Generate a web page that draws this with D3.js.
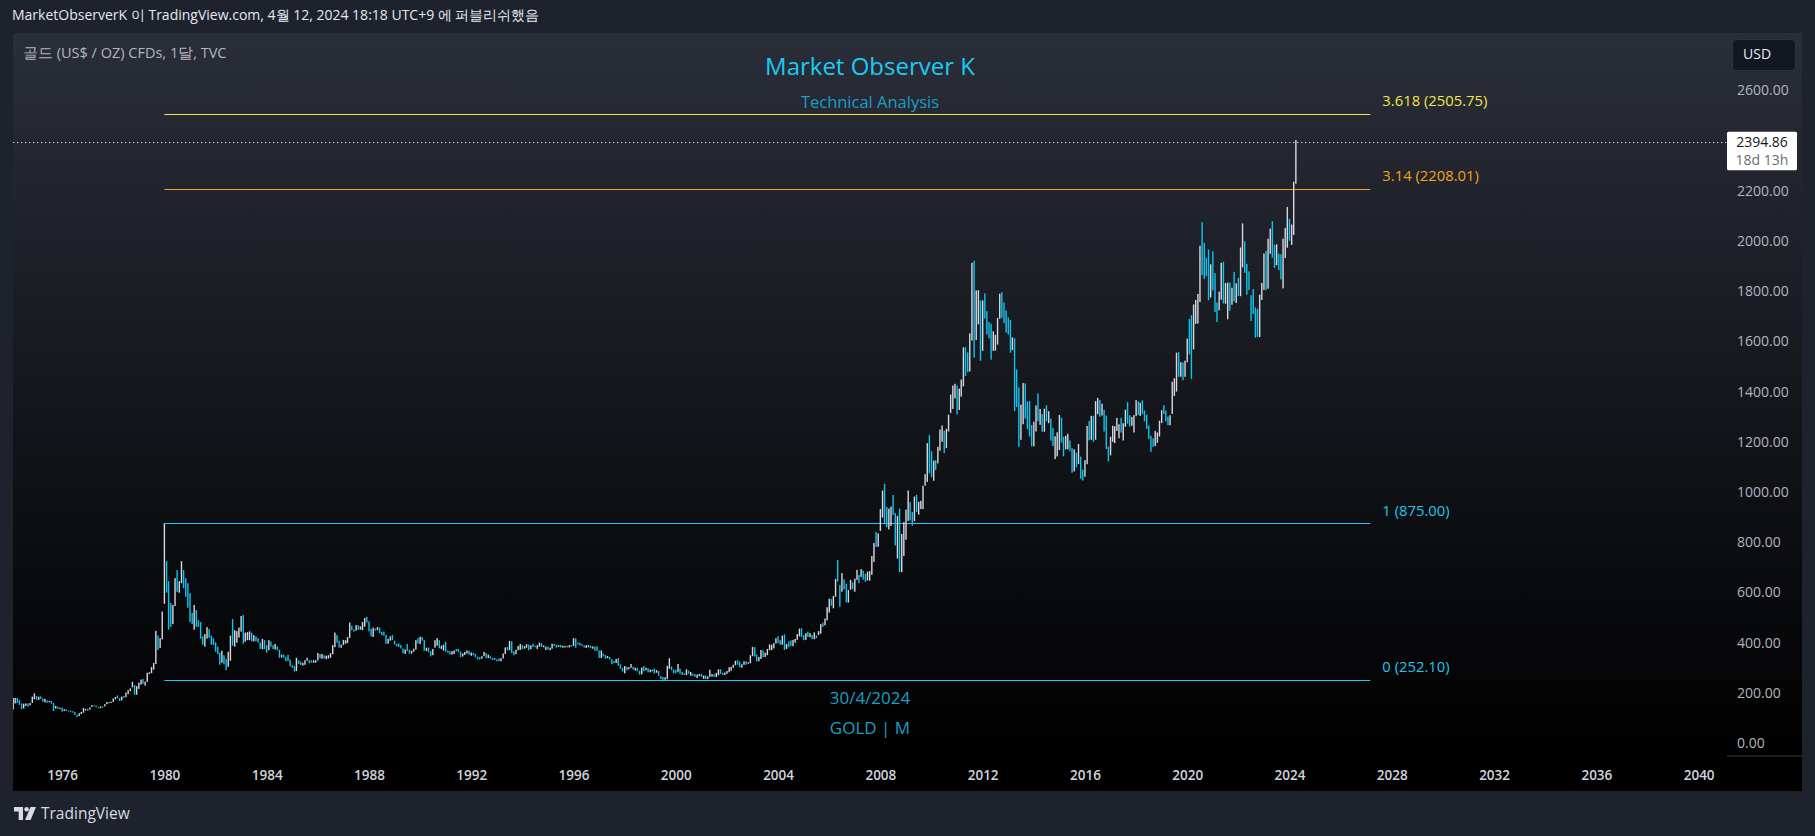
<!DOCTYPE html>
<html>
<head>
<meta charset="utf-8">
<script src="https://cdn.jsdelivr.net/npm/d3@7"></script>
<style>
  html, body { margin: 0; padding: 0; background: #1e222d; overflow: hidden; }
  text { font-family: "Open Sans", Roboto, sans-serif; }
</style>
</head>
<body>
<div id="chart"></div>
<script>
// monthly gold bars (TVC:GOLD), Jan 1974 .. Apr 2024
var startYear = 1974;
var openBefore = 112;

var closes = [
  139,169,178,172,154,143,155,155,152,158,182,187, // 1974
  176,182,178,167,167,166,167,159,142,142,139,140,
  129,132,129,128,126,123,112,104,116,123,130,134,
  132,142,149,148,143,141,145,145,154,162,161,165,
  175,182,181,170,184,183,200,208,217,242,198,226,
  233,251,240,245,275,277,296,315,397,383,414,512,
  653,637,494,488,535,653,615,632,666,629,619,590, // 1980
  500,487,514,482,479,424,409,426,437,428,414,398,
  387,363,320,349,318,315,345,411,397,422,437,448,
  481,408,414,429,437,416,422,414,403,382,405,382,
  371,395,389,375,385,373,344,347,342,333,331,309,
  305,298,330,321,316,317,329,333,326,325,326,327,
  353,339,348,343,344,346,357,383,421,403,385,391,
  405,406,419,452,451,448,462,453,460,465,491,486,
  455,427,457,451,460,438,437,430,398,412,422,410,
  395,388,386,377,362,373,367,359,367,375,408,401,
  415,407,368,368,363,352,372,387,408,380,385,386, // 1990
  367,363,356,356,367,366,363,347,355,357,366,353,
  354,353,341,338,337,343,357,341,349,338,334,333,
  330,327,338,355,378,376,402,371,355,370,371,391,
  378,380,390,377,387,386,383,386,395,383,383,383,
  375,376,392,390,385,387,383,384,384,383,387,387,
  405,400,396,392,390,382,385,387,379,379,372,369,
  345,362,348,340,345,334,326,325,332,311,296,290,
  304,297,301,310,293,297,287,273,294,292,294,288,
  288,288,280,286,268,262,255,255,299,299,293,290,
  284,293,278,276,273,288,277,277,274,265,273,273, // 2000
  265,267,258,264,266,271,265,273,291,279,275,277,
  283,297,303,308,326,318,304,312,323,316,318,348,
  368,348,334,336,364,346,355,373,384,385,397,417,
  402,397,426,388,395,393,391,408,416,426,453,438,
  422,434,428,435,417,435,429,437,473,470,496,517,
  568,556,582,654,643,613,632,624,598,604,647,632,
  650,665,662,680,659,651,666,673,744,788,783,834,
  924,972,916,864,886,927,913,834,872,723,814,869,
  919,942,917,891,980,927,954,955,1008,1040,1182,1096,
  1084,1118,1113,1180,1213,1244,1181,1248,1307,1357,1386,1421, // 2010
  1333,1410,1439,1556,1536,1500,1628,1826,1624,1722,1746,1565,
  1737,1711,1669,1664,1562,1604,1615,1687,1772,1720,1711,1675,
  1663,1578,1596,1472,1393,1234,1312,1395,1327,1323,1253,1202,
  1244,1326,1284,1296,1250,1327,1282,1287,1210,1171,1182,1184,
  1283,1212,1183,1183,1190,1172,1095,1133,1115,1142,1065,1061,
  1118,1238,1233,1293,1214,1322,1351,1309,1316,1277,1173,1146,
  1211,1249,1249,1268,1268,1242,1269,1322,1280,1271,1275,1303,
  1345,1318,1325,1315,1299,1253,1224,1201,1192,1215,1222,1282,
  1321,1313,1292,1284,1305,1409,1413,1520,1472,1513,1464,1517,
  1589,1585,1577,1694,1730,1781,1975,1967,1886,1879,1776,1898, // 2020
  1848,1734,1708,1769,1906,1770,1814,1814,1743,1783,1775,1829,
  1797,1909,1937,1897,1837,1807,1766,1711,1661,1633,1768,1824,
  1928,1827,1969,1990,1963,1919,1965,1940,1849,1984,2036,2063,
  2039,2044,2229,2395
];

var highs = [
  140,180,180,180,172,158,157,158,158,160,185,198, // 1974
  187,185,186,178,176,170,168,168,160,148,145,141,
  141,135,134,130,129,127,124,113,119,124,140,136,
  137,142,151,150,149,143,146,146,155,164,164,165,
  178,184,190,180,185,187,201,211,218,244,231,227,
  241,253,255,245,280,282,303,319,447,428,418,524,
  875,725,645,558,550,657,689,645,725,689,657,637, // 1980
  597,518,550,530,490,482,425,434,462,454,428,418,
  402,384,360,368,350,336,364,428,494,450,446,460,
  506,510,440,442,445,440,430,425,418,400,415,410,
  390,410,405,390,395,385,372,352,352,344,352,333,
  310,307,340,330,325,320,330,340,330,330,330,330,
  359,355,355,350,348,350,358,390,440,430,408,392,
  411,410,422,480,468,452,470,469,465,482,498,503,
  485,455,460,456,462,460,443,444,431,415,425,430,
  408,395,397,391,377,373,395,372,368,376,410,418,
  424,422,410,380,380,366,375,410,418,410,388,392, // 1990
  403,368,366,366,369,375,375,365,357,363,369,368,
  361,359,355,344,342,346,363,359,352,346,339,339,
  334,337,338,357,381,383,407,405,366,372,387,395,
  391,386,394,392,389,396,388,390,400,398,389,384,
  384,380,396,395,392,390,391,388,387,388,390,389,
  418,417,400,400,394,389,390,390,388,385,385,385,
  369,369,356,351,347,343,335,327,335,339,314,300,
  307,304,302,315,304,300,300,288,301,307,300,298,
  293,292,297,291,287,267,264,262,308,338,305,293,
  292,315,297,284,278,294,289,283,277,275,273,275, // 2000
  276,269,270,266,292,275,274,280,294,294,280,281,
  287,302,304,312,328,330,325,314,326,326,322,350,
  383,382,352,343,371,369,360,375,393,392,398,418,
  426,410,428,433,395,405,409,411,415,434,456,457,
  430,438,444,438,430,441,429,446,474,480,496,541,
  575,574,586,654,730,630,677,652,635,610,650,640,
  655,690,670,693,687,674,683,685,745,797,841,835,
  932,1006,1033,941,934,942,988,916,905,934,833,880,
  930,1006,960,920,982,989,961,965,1025,1071,1195,1227,
  1162,1125,1127,1180,1249,1265,1244,1252,1308,1388,1424,1431, // 2010
  1424,1412,1448,1576,1577,1556,1632,1913,1921,1803,1804,1763,
  1763,1791,1720,1677,1670,1640,1626,1693,1790,1796,1755,1723,
  1695,1685,1616,1612,1488,1417,1348,1434,1433,1361,1362,1267,
  1280,1345,1392,1331,1310,1332,1345,1322,1292,1255,1222,1238,
  1307,1296,1220,1224,1232,1205,1175,1170,1157,1191,1141,1089,
  1127,1263,1283,1303,1304,1362,1375,1367,1352,1327,1305,1181,
  1220,1264,1262,1295,1270,1296,1274,1328,1358,1306,1299,1306,
  1366,1361,1356,1365,1325,1308,1265,1224,1214,1243,1237,1284,
  1326,1346,1324,1301,1306,1439,1453,1555,1557,1517,1516,1523,
  1611,1689,1704,1747,1765,1789,1981,2075,1992,1933,1966,1907, // 2020
  1959,1872,1755,1798,1913,1917,1832,1834,1834,1814,1877,1831,
  1853,1974,2070,1998,1909,1879,1784,1808,1735,1730,1786,1833,
  1950,1960,2009,2049,2079,1984,1987,1949,1947,2009,2052,2135,
  2088,2065,2236,2402
];

var lows = [
  117,134,158,160,152,135,138,148,145,150,160,175, // 1974
  172,172,176,165,162,161,163,157,128,138,137,136,
  125,128,128,126,123,122,112,103,108,116,121,130,
  129,133,144,146,143,140,139,144,146,155,158,160,
  164,174,179,168,170,180,183,195,207,222,193,193,
  216,233,236,229,244,275,279,293,315,371,379,413,
  555,599,452,463,474,546,602,599,637,617,583,539, // 1980
  482,474,452,463,463,416,392,384,416,420,392,391,
  364,355,312,320,314,291,304,328,388,384,400,420,
  444,396,404,410,410,405,405,405,400,375,374,375,
  360,370,384,375,373,370,340,341,340,326,327,306,
  300,285,287,315,311,309,312,328,318,320,320,320,
  329,338,336,337,334,337,340,354,382,400,380,380,
  391,396,399,419,449,444,448,451,452,450,464,480,
  445,425,423,448,450,438,430,428,395,396,408,410,
  392,385,383,377,358,355,367,356,356,364,373,397,
  395,408,368,367,362,346,350,380,388,378,375,368, // 1990
  364,360,353,352,355,365,363,342,345,351,357,352,
  348,350,342,333,333,336,346,338,339,336,331,331,
  326,326,326,337,355,370,370,359,350,354,370,371,
  375,376,380,370,374,383,382,375,384,383,382,371,
  372,370,376,387,380,383,381,380,381,381,381,385,
  387,380,393,389,387,381,379,382,378,376,368,367,
  339,339,345,336,338,333,315,318,319,308,296,285,
  278,290,294,300,293,289,286,273,274,286,290,282,
  282,286,277,280,268,255,252,252,255,296,290,278,
  278,284,276,271,271,271,276,268,268,264,259,267, // 2000
  263,256,255,255,264,265,264,263,270,276,272,271,
  276,282,288,300,310,312,302,300,312,312,316,318,
  346,345,325,326,335,342,343,350,370,370,377,397,
  398,392,392,371,375,382,387,386,400,411,425,422,
  410,411,423,422,414,414,418,430,436,463,469,489,
  520,547,537,583,643,543,603,612,560,560,611,613,
  603,650,637,662,651,642,648,647,670,722,781,782,
  845,898,875,860,851,865,909,787,735,681,681,745,
  810,885,887,866,884,920,910,932,932,1025,1040,1075,
  1059,1045,1088,1114,1164,1200,1155,1175,1241,1315,1331,1373, // 2010
  1309,1327,1380,1421,1462,1477,1480,1603,1535,1605,1668,1523,
  1562,1691,1628,1612,1527,1562,1563,1587,1690,1694,1673,1635,
  1627,1555,1565,1322,1338,1180,1208,1270,1292,1251,1221,1182,
  1182,1241,1282,1268,1240,1240,1281,1274,1205,1183,1131,1142,
  1167,1197,1142,1170,1170,1162,1077,1082,1098,1111,1053,1046,
  1061,1111,1206,1208,1200,1208,1310,1300,1305,1241,1171,1122,
  1146,1200,1195,1243,1214,1237,1205,1260,1272,1261,1264,1237,
  1302,1307,1303,1310,1282,1251,1211,1160,1180,1183,1196,1221,
  1275,1311,1281,1266,1266,1311,1382,1400,1459,1459,1445,1459,
  1517,1548,1451,1568,1670,1671,1757,1863,1849,1860,1764,1775, // 2020
  1803,1717,1677,1724,1766,1751,1750,1688,1722,1746,1759,1753,
  1781,1780,1895,1873,1786,1805,1681,1709,1615,1618,1617,1765,
  1805,1804,1810,1949,1933,1893,1903,1884,1847,1811,1932,1973,
  2001,1984,2024,2228
];

var yearTicks = [1976,1980,1984,1988,1992,1996,2000,2004,2008,2012,2016,2020,2024,2028,2032,2036,2040];
var priceTicks = [0,200,400,600,800,1000,1200,1400,1600,1800,2000,2200,2400,2600];

// fibonacci extension
var fibLow = 252.10, fibHigh = 875.00;
var fibLevels = [0, 1, 3.14, 3.618];
var fibStart = new Date(1980, 0, 1), fibEnd = new Date(2027, 2, 1);
var fibColors = ["#1ec8f0", "#1ec8f0", "#f7a21a", "#f5e54b"];

var lastPrice = 2394.86, countdown = "18d 13h";

var W = 1815, H = 836;
var plot = { left: 13, right: 1727, top: 33, bottom: 756 };
var upColor = "#d6d9e0", downColor = "#10c4f0";

var bars = closes.map(function(c, i) {
  var open = i ? closes[i - 1] : openBefore;
  return { date: new Date(startYear, i, 1), open: open, close: c, high: highs[i], low: lows[i] };
});

var svg = d3.select("#chart").append("svg")
  .attr("width", W)
  .attr("height", H);

var defs = svg.append("defs");
var grad = defs.append("linearGradient")
  .attr("id", "bg")
  .attr("x1", 0).attr("y1", 0).attr("x2", 0).attr("y2", 1);
grad.append("stop").attr("offset", "0%").attr("stop-color", "#2a2e39");
grad.append("stop").attr("offset", "95%").attr("stop-color", "#000000");
grad.append("stop").attr("offset", "100%").attr("stop-color", "#000000");

defs.append("clipPath").attr("id", "clip")
  .append("rect")
    .attr("x", plot.left).attr("y", plot.top)
    .attr("width", plot.right - plot.left).attr("height", plot.bottom - plot.top);

// header
svg.append("text")
  .attr("x", 12).attr("y", 15)
  .attr("dy", "0.35em")
  .style("font-size", "14px")
  .style("fill", "#e6e8ee")
  .text("MarketObserverK 이 TradingView.com, 4월 12, 2024 18:18 UTC+9 에 퍼블리쉬했음");

// chart panel
svg.append("rect")
  .attr("x", plot.left).attr("y", plot.top)
  .attr("width", 1802 - plot.left).attr("height", 791 - plot.top)
  .style("fill", "url(#bg)");

svg.append("line")
  .attr("x1", plot.right).attr("x2", 1802)
  .attr("y1", plot.bottom).attr("y2", plot.bottom)
  .style("stroke", "#363a45");

var x = d3.scaleTime()
  .domain([new Date(1980, 0, 1), new Date(2024, 0, 1)])
  .range([164.4, 1289.5]);

var y = d3.scaleLinear()
  .domain([0, 2600])
  .range([743.1, 90.3]);

// watermark texts
var mid = (plot.left + plot.right) / 2;
svg.append("text")
  .attr("x", mid).attr("y", 67).attr("dy", "0.35em")
  .attr("text-anchor", "middle")
  .style("font-size", "24px")
  .style("fill", "#1ccbf2")
  .text("Market Observer K");
svg.append("text")
  .attr("x", mid).attr("y", 102).attr("dy", "0.35em")
  .attr("text-anchor", "middle")
  .style("font-size", "16.5px")
  .style("fill", "#1b9fc2")
  .text("Technical Analysis");
svg.append("text")
  .attr("x", mid).attr("y", 698).attr("dy", "0.35em")
  .attr("text-anchor", "middle")
  .style("font-size", "17px")
  .style("fill", "#1b9fc2")
  .text("30/4/2024");
svg.append("text")
  .attr("x", mid).attr("y", 728).attr("dy", "0.35em")
  .attr("text-anchor", "middle")
  .style("font-size", "17px")
  .style("fill", "#1b9fc2")
  .text("GOLD | M");

svg.append("text")
  .attr("x", 23).attr("y", 53).attr("dy", "0.35em")
  .style("font-size", "14.5px")
  .style("fill", "#b2b5be")
  .text("골드 (US$ / OZ) CFDs, 1달, TVC");

var g = svg.append("g").attr("clip-path", "url(#clip)");

// fib levels
var fib = fibLevels.map(function(r, i) {
  return { ratio: r, price: fibLow + r * (fibHigh - fibLow), color: fibColors[i] };
});

g.selectAll(".fib")
  .data(fib)
  .join("line")
    .attr("class", "fib")
    .attr("x1", x(fibStart)).attr("x2", x(fibEnd))
    .attr("y1", d => Math.round(y(d.price)) + 0.5)
    .attr("y2", d => Math.round(y(d.price)) + 0.5)
    .style("stroke", d => d.color)
    .style("stroke-width", 1);

g.selectAll(".fibLabel")
  .data(fib)
  .join("text")
    .attr("class", "fibLabel")
    .attr("x", x(fibEnd) + 12)
    .attr("y", d => y(d.price) - 13)
    .attr("dy", "0.35em")
    .style("font-size", "14.8px")
    .style("fill", d => d.color)
    .text(d => d.ratio + " (" + d.price.toFixed(2) + ")");

// bars
g.selectAll(".bar")
  .data(bars)
  .join("rect")
    .attr("class", "bar")
    .attr("x", d => x(d.date) - 0.7)
    .attr("y", d => y(d.high))
    .attr("width", 1.4)
    .attr("height", d => Math.max(1, y(d.low) - y(d.high)))
    .style("fill", d => d.close >= d.open ? upColor : downColor);

// last price line
g.append("line")
  .attr("x1", plot.left).attr("x2", plot.right)
  .attr("y1", Math.round(y(lastPrice)) + 0.5).attr("y2", Math.round(y(lastPrice)) + 0.5)
  .style("stroke", "#d1d4dc")
  .style("stroke-width", 1.2)
  .style("stroke-dasharray", "1.3,2.7");

// axes
var yAxis = svg.append("g")
  .attr("transform", `translate(${plot.right},0)`)
  .call(d3.axisRight(y).tickValues(priceTicks).tickFormat(d3.format(".2f")).tickSize(0).tickPadding(10));
yAxis.select(".domain").remove();
yAxis.selectAll("text")
  .style("font-size", "14px")
  .style("font-family", "\"Open Sans\", Roboto, sans-serif")
  .style("fill", "#b2b5be");

var xAxis = svg.append("g")
  .attr("transform", "translate(0,775.5)")
  .call(d3.axisBottom(x).tickValues(yearTicks.map(yr => new Date(yr, 0, 1))).tickFormat(d3.timeFormat("%Y")).tickSize(0).tickPadding(0));
xAxis.select(".domain").remove();
xAxis.selectAll("text")
  .attr("y", 0)
  .attr("dy", "0.35em")
  .style("font-size", "13.5px")
  .style("font-weight", "600")
  .style("font-family", "\"Open Sans\", Roboto, sans-serif")
  .style("fill", "#d1d4dc");

// price label
var py = y(lastPrice);
svg.append("rect")
  .attr("x", 1727).attr("y", py - 10)
  .attr("width", 70).attr("height", 38.5)
  .attr("rx", 1.5)
  .style("fill", "#ffffff");
svg.append("text")
  .attr("x", 1762).attr("y", py + 0.5).attr("dy", "0.35em")
  .attr("text-anchor", "middle")
  .style("font-size", "14px")
  .style("fill", "#131722")
  .text(lastPrice.toFixed(2));
svg.append("text")
  .attr("x", 1762).attr("y", py + 18.5).attr("dy", "0.35em")
  .attr("text-anchor", "middle")
  .style("font-size", "14px")
  .style("fill", "#6a6d78")
  .text(countdown);

// USD box
svg.append("rect")
  .attr("x", 1732.5).attr("y", 39.5)
  .attr("width", 63).attr("height", 31)
  .attr("rx", 4)
  .style("fill", "#131722")
  .style("stroke", "#2e323e");
svg.append("text")
  .attr("x", 1743).attr("y", 54.5).attr("dy", "0.35em")
  .style("font-size", "14px")
  .style("fill", "#e6e8ee")
  .text("USD");

// footer logo
var logo = svg.append("g").attr("transform", "translate(14,807)").style("fill", "#d9dbe1");
logo.append("path").attr("d", "M0 0h9v13h-4.3v-8.6h-4.7z");
logo.append("circle").attr("cx", 12.6).attr("cy", 2.3).attr("r", 2.3);
logo.append("path").attr("d", "M16.5 0h5.5l-5.4 13h-5.5z");
svg.append("text")
  .attr("x", 41).attr("y", 814).attr("dy", "0.35em")
  .style("font-size", "15.5px")
  .style("fill", "#d9dbe1")
  .text("TradingView");
</script>
</body>
</html>
